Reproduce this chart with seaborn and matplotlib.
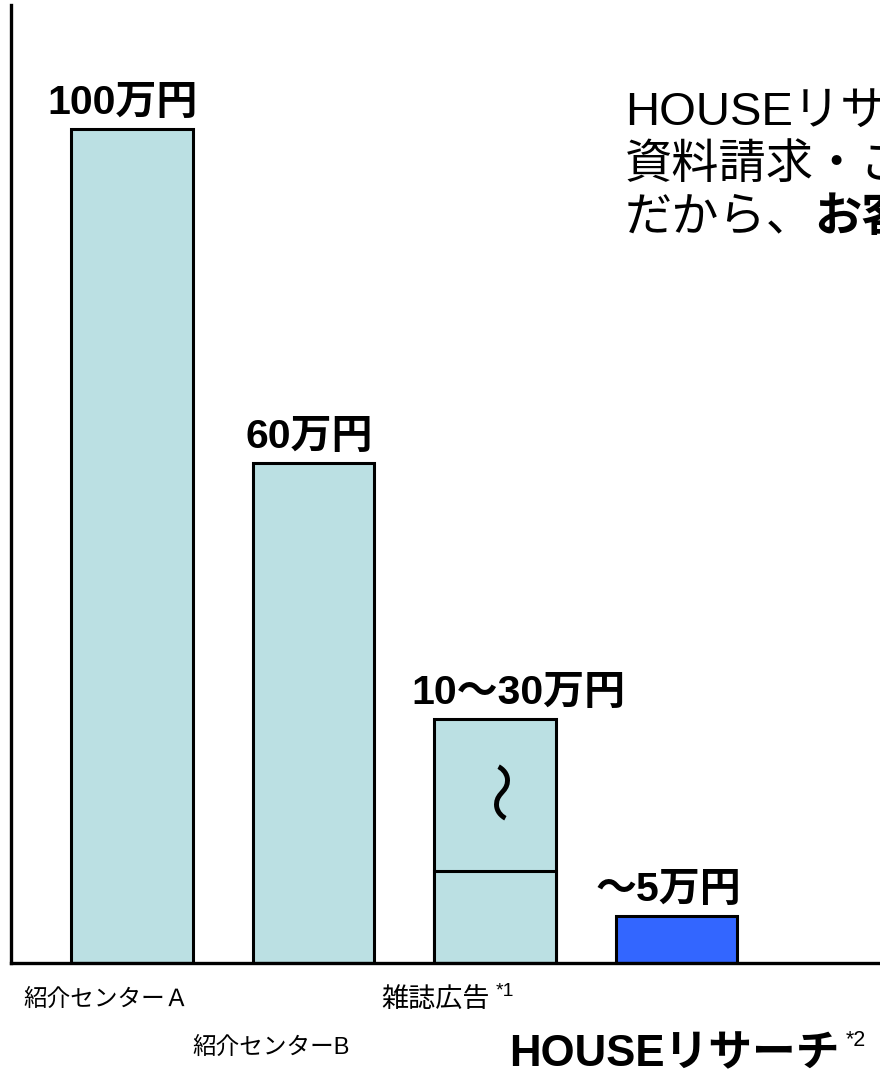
import matplotlib
matplotlib.use('Agg')
import matplotlib.pyplot as plt
import seaborn as sns

# 紹介料の比較（単位：万円）
categories = ['紹介センターＡ', '紹介センターB', '雑誌広告', 'HOUSEリサーチ']
bar_heights = [100, 60, 29.3, 5.6]
split_level = 11   # 雑誌広告 bar is drawn broken (10〜30)
value_labels = ['100万円', '60万円', '10〜30万円', '〜5万円']
notes = ['', '', '*1', '*2']
bar_colors = ['#BBE0E3', '#BBE0E3', '#BBE0E3', '#3366FF']

sns.set_theme(style='white')
plt.rcParams['font.family'] = ['Liberation Sans', 'Noto Sans CJK JP']
plt.rcParams['text.color'] = 'black'

W, H = 880, 1076
fig = plt.figure(figsize=(W / 100, H / 100), dpi=100)
ax = fig.add_axes([11 / W, 1 - 963 / H, 1 - 11 / W, 958 / H])

sns.barplot(x=categories, y=bar_heights, hue=categories, palette=bar_colors,
            order=categories, legend=False, width=0.67, saturation=1,
            edgecolor='black', linewidth=2.2, ax=ax)
# lower block of the broken bar
sns.barplot(x=[categories[2]], y=[split_level], order=categories,
            color=bar_colors[2], width=0.67, saturation=1,
            edgecolor='black', linewidth=2.2, ax=ax)

ax.set_xlim(-0.667, 4.12)
ax.set_ylim(0, 114.9)
ax.set_xticks([])
ax.set_yticks([])
ax.set_xlabel('')
ax.set_ylabel('')
sns.despine(ax=ax, top=True, right=True)
for s in ['left', 'bottom']:
    ax.spines[s].set_color('black')
    ax.spines[s].set_linewidth(2.4)

# 金額ラベル（少し左右にずらす）
shift = [-7, -3, 17, -6]
for i, (h, lab) in enumerate(zip(bar_heights, value_labels)):
    ax.annotate(lab, (i, h), xytext=(shift[i], 5), textcoords='offset points',
                ha='center', va='bottom', fontsize=29.5, fontweight='bold',
                color='black')

# 省略記号
ax.text(2.07, 20.8, '〜', rotation=90, ha='center', va='center',
        fontsize=44, color='black')

# カテゴリ名
trans = ax.get_xaxis_transform()
ax.text(-0.143, -0.0386, categories[0], transform=trans, ha='center',
        va='center', fontsize=17, color='black')
ax.text(0.766, -0.089, categories[1], transform=trans, ha='center',
        va='center', fontsize=17, color='black')
t3 = ax.text(1.67, -0.0386, categories[2], transform=trans, ha='center',
             va='center', fontsize=19.5, color='black')
t4 = ax.text(2.99, -0.096, categories[3], transform=trans, ha='center',
             va='center', fontsize=31.5, fontweight='bold', color='black')

fig.canvas.draw()
for t, note, fs in [(t3, notes[2], 14), (t4, notes[3], 15.5)]:
    bb = t.get_window_extent()
    fig.text((bb.x1 + 6) / W, (bb.y1 + 4) / H, note, ha='left', va='top',
             fontsize=fs, color='black')

# 右上の説明文
fig.text(625 / W, 1 - 125 / H, 'HOUSEリサーチは', fontsize=34, va='baseline')
fig.text(625 / W, 1 - 178 / H, '資料請求・ご', fontsize=34, va='baseline')
t5 = fig.text(625 / W, 1 - 231 / H, 'だから、', fontsize=34, va='baseline')
fig.canvas.draw()
bb = t5.get_window_extent()
fig.text(bb.x1 / W, 1 - 231 / H, 'お客様', fontsize=34, fontweight='bold',
         va='baseline')

fig.savefig('out.png', dpi=100)
